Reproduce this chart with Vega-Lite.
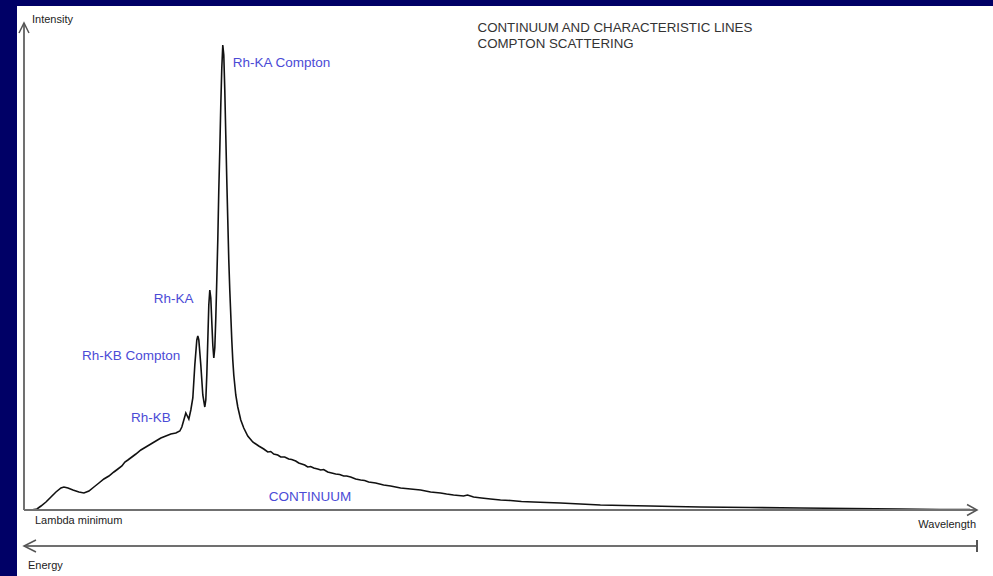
{
  "$schema": "https://vega.github.io/schema/vega-lite/v6.json",
  "width": 993,
  "height": 576,
  "autosize": {"type": "fit", "contains": "padding"},
  "padding": {"left": 16, "top": 6, "right": 0, "bottom": 0},
  "background": "#000066",
  "config": {"view": {"fill": "white", "stroke": null}, "font": "Liberation Sans"},
  "datasets": {
    "spectrum": [
      {"wavelength": 0, "intensity": 0}, {"wavelength": 7, "intensity": 0}, {"wavelength": 13, "intensity": 1},
      {"wavelength": 17, "intensity": 4}, {"wavelength": 22, "intensity": 8}, {"wavelength": 27, "intensity": 13},
      {"wavelength": 32, "intensity": 18}, {"wavelength": 37, "intensity": 22}, {"wavelength": 40, "intensity": 23},
      {"wavelength": 44, "intensity": 22}, {"wavelength": 49, "intensity": 20}, {"wavelength": 55, "intensity": 18},
      {"wavelength": 60, "intensity": 17}, {"wavelength": 65, "intensity": 19}, {"wavelength": 70, "intensity": 23},
      {"wavelength": 75, "intensity": 27}, {"wavelength": 80, "intensity": 31}, {"wavelength": 85, "intensity": 34},
      {"wavelength": 90, "intensity": 38}, {"wavelength": 94, "intensity": 41}, {"wavelength": 98, "intensity": 44},
      {"wavelength": 101, "intensity": 48}, {"wavelength": 104, "intensity": 50}, {"wavelength": 108, "intensity": 53},
      {"wavelength": 112, "intensity": 56}, {"wavelength": 117, "intensity": 60}, {"wavelength": 122, "intensity": 63},
      {"wavelength": 127, "intensity": 66}, {"wavelength": 132, "intensity": 69}, {"wavelength": 137, "intensity": 72},
      {"wavelength": 142, "intensity": 74}, {"wavelength": 147, "intensity": 76}, {"wavelength": 152, "intensity": 77},
      {"wavelength": 156, "intensity": 79}, {"wavelength": 158, "intensity": 83}, {"wavelength": 160, "intensity": 90},
      {"wavelength": 162, "intensity": 97}, {"wavelength": 163, "intensity": 95}, {"wavelength": 165, "intensity": 91},
      {"wavelength": 167, "intensity": 100}, {"wavelength": 169, "intensity": 112}, {"wavelength": 171, "intensity": 145},
      {"wavelength": 173, "intensity": 170}, {"wavelength": 174, "intensity": 174}, {"wavelength": 175, "intensity": 170},
      {"wavelength": 177, "intensity": 145}, {"wavelength": 179, "intensity": 115}, {"wavelength": 181, "intensity": 103},
      {"wavelength": 182, "intensity": 110}, {"wavelength": 183, "intensity": 135}, {"wavelength": 184, "intensity": 170},
      {"wavelength": 185, "intensity": 205}, {"wavelength": 186, "intensity": 220}, {"wavelength": 187, "intensity": 212},
      {"wavelength": 188, "intensity": 188}, {"wavelength": 189, "intensity": 165}, {"wavelength": 190, "intensity": 152},
      {"wavelength": 191, "intensity": 162}, {"wavelength": 192, "intensity": 192}, {"wavelength": 193, "intensity": 230},
      {"wavelength": 194, "intensity": 270}, {"wavelength": 195, "intensity": 320}, {"wavelength": 196, "intensity": 360},
      {"wavelength": 197, "intensity": 405}, {"wavelength": 198, "intensity": 442}, {"wavelength": 199, "intensity": 465},
      {"wavelength": 200, "intensity": 455}, {"wavelength": 201, "intensity": 420}, {"wavelength": 202, "intensity": 375},
      {"wavelength": 203, "intensity": 330}, {"wavelength": 204, "intensity": 290}, {"wavelength": 205, "intensity": 250},
      {"wavelength": 206, "intensity": 220}, {"wavelength": 207, "intensity": 195}, {"wavelength": 208, "intensity": 170},
      {"wavelength": 209, "intensity": 150}, {"wavelength": 210, "intensity": 135}, {"wavelength": 212, "intensity": 115},
      {"wavelength": 214, "intensity": 103}, {"wavelength": 217, "intensity": 90}, {"wavelength": 220, "intensity": 82},
      {"wavelength": 224, "intensity": 74}, {"wavelength": 229, "intensity": 68}, {"wavelength": 235, "intensity": 64},
      {"wavelength": 240, "intensity": 61}, {"wavelength": 244, "intensity": 58}, {"wavelength": 247, "intensity": 58.5},
      {"wavelength": 250, "intensity": 56}, {"wavelength": 254, "intensity": 55}, {"wavelength": 257, "intensity": 53},
      {"wavelength": 261, "intensity": 53}, {"wavelength": 265, "intensity": 51}, {"wavelength": 268, "intensity": 50.5},
      {"wavelength": 272, "intensity": 49}, {"wavelength": 275, "intensity": 47}, {"wavelength": 278, "intensity": 46},
      {"wavelength": 281, "intensity": 45}, {"wavelength": 284, "intensity": 43}, {"wavelength": 287, "intensity": 43.5},
      {"wavelength": 290, "intensity": 42}, {"wavelength": 294, "intensity": 41}, {"wavelength": 297, "intensity": 40},
      {"wavelength": 300, "intensity": 40.5}, {"wavelength": 304, "intensity": 38}, {"wavelength": 308, "intensity": 37},
      {"wavelength": 312, "intensity": 36}, {"wavelength": 316, "intensity": 35.5}, {"wavelength": 320, "intensity": 34},
      {"wavelength": 323, "intensity": 34}, {"wavelength": 327, "intensity": 33}, {"wavelength": 332, "intensity": 31},
      {"wavelength": 337, "intensity": 30}, {"wavelength": 341, "intensity": 29.5}, {"wavelength": 345, "intensity": 28},
      {"wavelength": 352, "intensity": 27}, {"wavelength": 356, "intensity": 26}, {"wavelength": 360, "intensity": 25},
      {"wavelength": 367, "intensity": 24}, {"wavelength": 372, "intensity": 23}, {"wavelength": 377, "intensity": 22},
      {"wavelength": 382, "intensity": 21.5}, {"wavelength": 387, "intensity": 21}, {"wavelength": 392, "intensity": 20.5},
      {"wavelength": 397, "intensity": 20}, {"wavelength": 402, "intensity": 19}, {"wavelength": 407, "intensity": 18},
      {"wavelength": 412, "intensity": 17.5}, {"wavelength": 417, "intensity": 17}, {"wavelength": 423, "intensity": 16},
      {"wavelength": 430, "intensity": 15}, {"wavelength": 435, "intensity": 14.5}, {"wavelength": 440, "intensity": 14},
      {"wavelength": 444, "intensity": 15}, {"wavelength": 450, "intensity": 13}, {"wavelength": 458, "intensity": 12},
      {"wavelength": 467, "intensity": 11}, {"wavelength": 477, "intensity": 10}, {"wavelength": 487, "intensity": 9.5},
      {"wavelength": 498, "intensity": 8.5}, {"wavelength": 510, "intensity": 8}, {"wavelength": 523, "intensity": 7.5},
      {"wavelength": 537, "intensity": 7}, {"wavelength": 557, "intensity": 6}, {"wavelength": 577, "intensity": 5},
      {"wavelength": 600, "intensity": 4.5}, {"wavelength": 627, "intensity": 4}, {"wavelength": 650, "intensity": 3.5},
      {"wavelength": 677, "intensity": 3}, {"wavelength": 727, "intensity": 2.5}, {"wavelength": 777, "intensity": 2},
      {"wavelength": 827, "intensity": 1.5}, {"wavelength": 877, "intensity": 1}, {"wavelength": 917, "intensity": 0.5},
      {"wavelength": 947, "intensity": 0.5}
    ]
  },
  "layer": [
    {
      "data": {"name": "spectrum"},
      "mark": {"type": "line", "color": "#111111", "strokeWidth": 1.6},
      "encoding": {
        "x": {"field": "wavelength", "type": "quantitative", "axis": null, "scale": {"domain": [-7, 970], "nice": false, "zero": false}},
        "y": {"field": "intensity", "type": "quantitative", "axis": null, "scale": {"domain": [-66, 504], "nice": false, "zero": false}}
      }
    },
    {
      "data": {"values": [{}]},
      "mark": {"type": "rule", "color": "#707070", "strokeWidth": 2},
      "encoding": {
        "x": {"datum": 0, "type": "quantitative", "axis": null, "scale": {"domain": [-7, 970], "nice": false, "zero": false}},
        "y": {"datum": 0, "type": "quantitative", "axis": null, "scale": {"domain": [-66, 504], "nice": false, "zero": false}},
        "y2": {"datum": 487}
      }
    },
    {
      "data": {"values": [{}]},
      "mark": {"type": "rule", "color": "#707070", "strokeWidth": 2},
      "encoding": {
        "x": {"datum": 0, "type": "quantitative", "axis": null, "scale": {"domain": [-7, 970], "nice": false, "zero": false}},
        "x2": {"datum": 954},
        "y": {"datum": 0, "type": "quantitative", "axis": null, "scale": {"domain": [-66, 504], "nice": false, "zero": false}}
      }
    },
    {
      "data": {"values": [{}]},
      "mark": {"type": "rule", "color": "#707070", "strokeWidth": 2},
      "encoding": {
        "x": {"datum": 0, "type": "quantitative", "axis": null, "scale": {"domain": [-7, 970], "nice": false, "zero": false}},
        "x2": {"datum": 954},
        "y": {"datum": -36, "type": "quantitative", "axis": null, "scale": {"domain": [-66, 504], "nice": false, "zero": false}}
      }
    },
    {
      "data": {"values": [{}]},
      "mark": {"type": "point", "shape": "M -0.5 1 L 0 0 L 0.5 1", "size": 400, "filled": false, "stroke": "#555555", "strokeWidth": 1.5, "opacity": 1},
      "encoding": {
        "x": {"datum": 0, "type": "quantitative", "axis": null, "scale": {"domain": [-7, 970], "nice": false, "zero": false}},
        "y": {"datum": 487, "type": "quantitative", "axis": null, "scale": {"domain": [-66, 504], "nice": false, "zero": false}}
      }
    },
    {
      "data": {"values": [{}]},
      "mark": {"type": "point", "shape": "M -1 -0.55 L 0 0 L -1 0.55", "size": 400, "filled": false, "stroke": "#555555", "strokeWidth": 1.5, "opacity": 1},
      "encoding": {
        "x": {"datum": 954, "type": "quantitative", "axis": null, "scale": {"domain": [-7, 970], "nice": false, "zero": false}},
        "y": {"datum": 0, "type": "quantitative", "axis": null, "scale": {"domain": [-66, 504], "nice": false, "zero": false}}
      }
    },
    {
      "data": {"values": [{}]},
      "mark": {"type": "point", "shape": "M 1 -0.5 L 0 0 L 1 0.5", "size": 576, "filled": false, "stroke": "#555555", "strokeWidth": 1.5, "opacity": 1},
      "encoding": {
        "x": {"datum": 0, "type": "quantitative", "axis": null, "scale": {"domain": [-7, 970], "nice": false, "zero": false}},
        "y": {"datum": -36, "type": "quantitative", "axis": null, "scale": {"domain": [-66, 504], "nice": false, "zero": false}}
      }
    },
    {
      "data": {"values": [{}]},
      "mark": {"type": "point", "shape": "M 0 -1 L 0 1", "size": 144, "filled": false, "stroke": "#555555", "strokeWidth": 2, "opacity": 1},
      "encoding": {
        "x": {"datum": 954, "type": "quantitative", "axis": null, "scale": {"domain": [-7, 970], "nice": false, "zero": false}},
        "y": {"datum": -36, "type": "quantitative", "axis": null, "scale": {"domain": [-66, 504], "nice": false, "zero": false}}
      }
    },
    {
      "data": {"values": [
        {"x": 454, "y": 482, "label": "CONTINUUM AND CHARACTERISTIC LINES"},
        {"x": 454, "y": 466, "label": "COMPTON SCATTERING"}
      ]},
      "mark": {"type": "text", "align": "left", "baseline": "middle", "fontSize": 13.3, "color": "#333333"},
      "encoding": {
        "x": {"field": "x", "type": "quantitative", "axis": null, "scale": {"domain": [-7, 970], "nice": false, "zero": false}},
        "y": {"field": "y", "type": "quantitative", "axis": null, "scale": {"domain": [-66, 504], "nice": false, "zero": false}},
        "text": {"field": "label"}
      }
    },
    {
      "data": {"values": [
        {"x": 209, "y": 447, "label": "Rh-KA Compton"},
        {"x": 130, "y": 211, "label": "Rh-KA"},
        {"x": 58, "y": 154, "label": "Rh-KB Compton"},
        {"x": 107, "y": 92, "label": "Rh-KB"},
        {"x": 245, "y": 13, "label": "CONTINUUM"}
      ]},
      "mark": {"type": "text", "align": "left", "baseline": "middle", "fontSize": 13.5, "color": "#4b4bd6"},
      "encoding": {
        "x": {"field": "x", "type": "quantitative", "axis": null, "scale": {"domain": [-7, 970], "nice": false, "zero": false}},
        "y": {"field": "y", "type": "quantitative", "axis": null, "scale": {"domain": [-66, 504], "nice": false, "zero": false}},
        "text": {"field": "label"}
      }
    },
    {
      "data": {"values": [
        {"x": 8, "y": 490, "label": "Intensity"},
        {"x": 11, "y": -11, "label": "Lambda minimum"},
        {"x": 4, "y": -56, "label": "Energy"}
      ]},
      "mark": {"type": "text", "align": "left", "baseline": "middle", "fontSize": 11, "color": "#222222"},
      "encoding": {
        "x": {"field": "x", "type": "quantitative", "axis": null, "scale": {"domain": [-7, 970], "nice": false, "zero": false}},
        "y": {"field": "y", "type": "quantitative", "axis": null, "scale": {"domain": [-66, 504], "nice": false, "zero": false}},
        "text": {"field": "label"}
      }
    },
    {
      "data": {"values": [{"x": 953, "y": -15, "label": "Wavelength"}]},
      "mark": {"type": "text", "align": "right", "baseline": "middle", "fontSize": 11, "color": "#222222"},
      "encoding": {
        "x": {"field": "x", "type": "quantitative", "axis": null, "scale": {"domain": [-7, 970], "nice": false, "zero": false}},
        "y": {"field": "y", "type": "quantitative", "axis": null, "scale": {"domain": [-66, 504], "nice": false, "zero": false}},
        "text": {"field": "label"}
      }
    }
  ]
}
